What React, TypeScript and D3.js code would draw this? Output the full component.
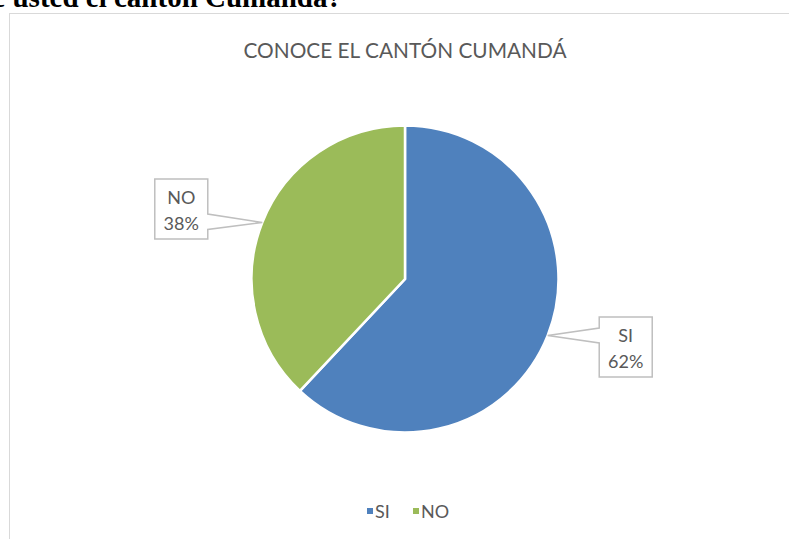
import React from "react";
import * as d3 from "d3";

const categories = ["SI", "NO"];
const values = [62, 38];
const colors = ["#4f81bd", "#9bbb59"];
const chartTitle = "CONOCE EL CANTÓN CUMANDÁ";
const questionText = "¿Conoce usted el cantón Cumandá?";

const W = 789;
const H = 539;
const cx = 405;
const cy = 279;
const R = 153.5;
const FONT = "Lato, 'Open Sans', sans-serif";
const TXT = "#595959";

export default function App() {
  const total = d3.sum(values);
  const pie = d3
    .pie<number>()
    .sort(null)
    .value((d) => d)(values);
  const arc = d3.arc<d3.PieArcDatum<number>>().innerRadius(0).outerRadius(R);

  const boxW = 53;
  const boxH = 60;

  const labels = pie.map((p, i) => {
    const mid = (p.startAngle + p.endAngle) / 2;
    const tx = cx + R * Math.sin(mid);
    const ty = cy - R * Math.cos(mid);
    const right = Math.sin(mid) > 0;
    const bcx = tx + (right ? 78 : -81);
    const bcy = ty + (right ? 11.5 : -13.5);
    const x0 = bcx - boxW / 2;
    const x1 = bcx + boxW / 2;
    const y0 = bcy - boxH / 2;
    const y1 = bcy + boxH / 2;
    let path: string;
    if (right) {
      path = `M${x0},${y0} L${x1},${y0} L${x1},${y1} L${x0},${y1} L${x0},${ty + 7.5} L${tx},${ty} L${x0},${ty - 7.5} Z`;
    } else {
      path = `M${x0},${y0} L${x1},${y0} L${x1},${ty - 8.5} L${tx},${ty} L${x1},${ty + 7} L${x1},${y1} L${x0},${y1} Z`;
    }
    const pct = Math.round((values[i] / total) * 100) + "%";
    return { path, bcx, y0, name: categories[i], pct };
  });

  const legendItems = [
    { x: 367, tx: 375 },
    { x: 413, tx: 421 },
  ];

  return (
    <svg
      width={W}
      height={H}
      style={{ position: "absolute", left: 0, top: 0, background: "#fff" }}
    >
      <rect x={0} y={0} width={W} height={H} fill="#fff" />
      <text
        x={342}
        y={7}
        textAnchor="end"
        fontFamily="'Liberation Serif', 'Times New Roman', serif"
        fontWeight="bold"
        fontSize={29}
        fill="#000"
      >
        {questionText}
      </text>
      <rect
        x={9.5}
        y={13.5}
        width={W + 20}
        height={H + 20}
        fill="#fff"
        stroke="#d9d9d9"
        strokeWidth={1}
      />
      <text
        x={cx}
        y={58}
        textAnchor="middle"
        fontFamily={FONT}
        fontSize={21}
        fill={TXT}
        textLength={323}
        lengthAdjust="spacingAndGlyphs"
      >
        {chartTitle}
      </text>
      <g>
        {pie.map((p, i) => (
          <path
            key={categories[i]}
            d={arc(p) || ""}
            transform={`translate(${cx},${cy})`}
            fill={colors[i]}
            stroke="#fff"
            strokeWidth={2.5}
          />
        ))}
      </g>
      {labels.map((l) => (
        <g key={l.name}>
          <path d={l.path} fill="#fff" stroke="#bfbfbf" strokeWidth={1.5} />
          <text
            x={l.bcx}
            y={l.y0 + 25}
            textAnchor="middle"
            fontFamily={FONT}
            fontSize={18}
            fill={TXT}
          >
            {l.name}
          </text>
          <text
            x={l.bcx}
            y={l.y0 + 51}
            textAnchor="middle"
            fontFamily={FONT}
            fontSize={18}
            fill={TXT}
          >
            {l.pct}
          </text>
        </g>
      ))}
      {categories.map((c, i) => (
        <g key={"lg" + c}>
          <rect
            x={legendItems[i].x}
            y={508}
            width={6}
            height={6}
            fill={colors[i]}
          />
          <text
            x={legendItems[i].tx}
            y={518}
            fontFamily={FONT}
            fontSize={18}
            fill={TXT}
          >
            {c}
          </text>
        </g>
      ))}
    </svg>
  );
}
